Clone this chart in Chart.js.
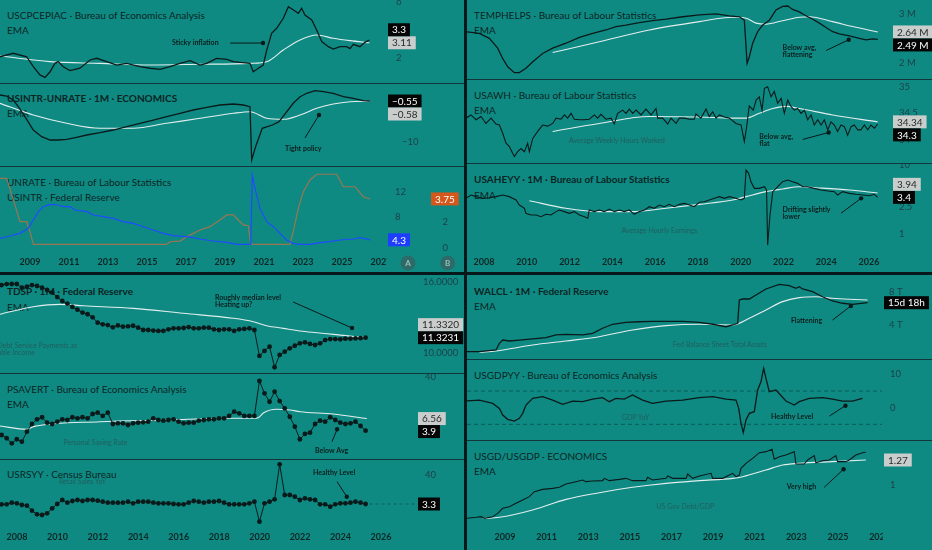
<!DOCTYPE html>
<html lang="en">
<head>
<meta charset="UTF-8">
<meta name="viewport" content="width=device-width, initial-scale=1.0">
<title>US Macro Dashboard</title>
<script src="https://cdn.jsdelivr.net/npm/chart.js"></script>
<style>
  body { margin: 0; width: 932px; height: 550px; overflow: hidden; position: relative; background: #0f8a83; font-family: Lato, "Noto Sans", sans-serif; }
  .txt { position: absolute; white-space: nowrap; z-index: 0; }
  .title { font-size: 10px; line-height: 12px; color: #0b2523; transform: translateY(-50%); }
  .title.bold { font-weight: 700; }
  .wm { font-size: 7px; line-height: 8px; color: #1f605c; transform: translate(-50%, -50%); }
  .wm.r { transform: translate(-100%, -50%); }
  .pane { position: absolute; z-index: 1; }
  .sep { position: absolute; z-index: 2; background: #12363a; }
  .sep.thick { background: #06181a; }
</style>
</head>
<body>
<script>
// ---------- data ----------
const oddYears = [2009, 2011, 2013, 2015, 2017, 2019, 2021, 2023, 2025, 2027];
const evenYears = [2008, 2010, 2012, 2014, 2016, 2018, 2020, 2022, 2024, 2026];

// core PCE inflation
const cpeT = [2007.46,2008.14,2008.83,2009.17,2009.51,2009.77,2010.03,2010.28,2010.45,2010.71,2011.05,2011.56,2012.08,2012.42,2012.93,2013.45,2013.96,2014.64,2015.15,2015.67,2016.18,2016.69,2017.21,2017.72,2018.06,2018.57,2019.09,2019.43,2019.77,2020.28,2020.45,2020.71,2020.96,2021.14,2021.39,2021.65,2021.99,2022.25,2022.51,2022.76,2022.93,2023.1,2023.45,2023.70,2023.96,2024.3,2024.55,2024.9,2025.24,2025.41,2025.58,2025.92,2026.17,2026.4];
const cpeV = [2.11,2.36,2.11,1.40,0.81,0.64,1.04,1.64,1.76,1.40,1.12,1.29,1.88,2.0,1.76,1.52,1.64,1.40,1.29,1.21,1.40,1.64,1.83,1.52,1.64,2.0,1.93,1.76,1.71,1.64,1.04,1.29,1.52,2.59,3.79,4.14,4.86,5.69,5.45,5.21,5.57,5.09,4.74,4.02,3.19,2.83,2.66,2.83,2.83,2.69,3.0,2.83,3.14,3.3];
const cpeEmaT = [2007.46,2010.03,2012.59,2015.15,2017.72,2020.28,2021.14,2021.99,2022.85,2023.7,2024.55,2025.41,2026.4];
const cpeEmaV = [2.16,1.76,1.64,1.52,1.57,1.64,1.76,2.59,3.31,3.66,3.43,3.26,3.11];

// policy rate minus unemployment rate
const spreadT = [2007.46,2007.8,2008.14,2008.4,2008.74,2009.17,2009.6,2010.03,2010.45,2010.88,2011.39,2011.91,2012.59,2013.27,2013.96,2014.64,2015.32,2016.01,2016.69,2017.37,2018.06,2018.74,2019.43,2019.94,2020.28,2020.37,2020.57,2020.91,2021.43,2021.77,2022.1,2022.5,2022.85,2023.19,2023.62,2024.04,2024.55,2025.07,2025.58,2026.09,2026.44];
const spreadV = [0.84,0.61,-0.32,-1.87,-4.19,-7.28,-8.83,-9.6,-9.6,-9.44,-8.97,-8.44,-7.9,-7.28,-6.51,-5.72,-4.96,-4.19,-3.4,-2.64,-2.01,-1.48,-1.25,-1.48,-1.87,-14.24,-11.15,-6.88,-6.12,-5.35,-3.4,-1.08,0.45,1.24,1.84,1.61,1.24,0.45,0.08,-0.45,-0.55];
const spreadEmaT = [2007.46,2009.17,2010.88,2012.59,2014.3,2016.01,2017.72,2019.43,2020.28,2021.14,2021.99,2022.85,2023.7,2024.55,2025.41,2026.44];
const spreadEmaV = [-1.08,-3.8,-5.72,-6.88,-6.88,-5.72,-4.57,-3.4,-3.03,-4.57,-4.8,-3.8,-2.24,-1.25,-0.71,-0.58];

// unemployment rate and policy rate
const unrateT = [2007.46,2007.97,2008.49,2008.91,2009.17,2009.43,2009.68,2010.03,2010.45,2010.71,2011.05,2011.31,2011.91,2012.25,2012.76,2013.27,2013.79,2014.3,2014.81,2015.32,2015.84,2016.35,2017.04,2017.72,2018.4,2019.09,2019.6,2020.32,2020.4,2020.54,2020.79,2021.14,2021.48,2021.82,2022.16,2022.5,2022.85,2023.36,2023.87,2024.38,2024.9,2025.58,2025.92,2026.44];
const unrateV = [4.54,4.91,5.34,6.14,7.47,8.8,9.6,9.98,9.87,9.6,9.6,9.07,8.8,8.27,8.0,7.74,7.2,6.94,6.4,5.87,5.34,4.96,4.8,4.43,4.11,3.9,3.58,3.58,14.67,12.54,9.34,7.2,6.4,5.34,4.27,3.74,3.58,3.58,3.84,4.0,4.27,4.43,4.64,4.3];
const usintrT = [2007.46,2007.8,2008.23,2008.49,2008.83,2009.0,2009.17,2016.01,2016.18,2016.69,2017.04,2017.37,2017.72,2018.23,2018.74,2019.09,2019.43,2019.68,2019.94,2020.2,2020.32,2022.33,2022.5,2022.76,2023.02,2023.36,2023.7,2024.73,2025.07,2025.67,2026.09,2026.44];
const usintrV = [5.34,5.34,3.28,2.0,2.0,1.23,0.26,0.26,0.46,0.51,0.85,1.1,1.36,1.62,2.13,2.52,2.52,2.13,1.75,1.69,0.26,0.26,1.23,3.03,4.31,5.21,5.65,5.65,4.69,4.69,3.92,3.75];

// quarterly series in the lower-left panes
const qStart = 2007.24;
const tdspV = [15.77,15.85,15.86,15.86,15.55,15.63,15.77,15.69,15.55,15.35,15.13,14.75,14.42,14.2,13.92,13.69,13.44,13.3,13.04,12.59,12.45,12.39,12.2,12.36,12.25,12.28,12.33,12.17,11.97,11.97,11.92,11.89,11.89,12.03,12.11,12.11,12.14,12.22,12.11,12.11,12.17,12.17,12.03,11.97,12.03,12.03,11.89,12.03,12.06,12.11,11.97,9.78,10.2,10.56,8.82,9.86,10.14,10.42,10.64,10.84,10.93,10.79,10.7,10.84,11.12,11.2,11.2,11.18,11.24,11.24,11.26,11.28,11.3231];
const tdspEmaT = [2007.16,2008.81,2010.13,2011.28,2013.75,2016.22,2018.7,2019.69,2020.35,2021.17,2022.0,2022.83,2023.65,2024.47,2025.3];
const tdspEmaV = [13.3,13.94,14.14,14.02,13.8,13.38,12.96,12.67,12.33,12.11,11.89,11.74,11.6,11.45,11.332];
const psavV = [3.24,2.82,2.27,2.7,2.43,3.74,5.2,6.36,6.94,5.5,5.2,5.74,6.36,6.17,6.94,6.63,6.94,6.63,7.99,8.45,7.34,8.45,5.2,5.35,5.35,4.98,5.35,5.5,5.59,5.74,6.63,6.17,5.99,6.17,6.36,5.74,5.35,5.5,5.5,5.99,6.17,6.36,6.36,6.63,6.63,7.34,8.81,8.22,7.34,7.34,7.34,32.9,19.4,13.5,20.8,13.9,10.2,7.1,4.63,2.7,3.39,3.58,5.2,5.99,5.74,6.94,6.17,5.5,5.2,5.35,5.74,4.77,3.9];
const psavEmaT = [2007.16,2008.48,2008.81,2012.1,2015.4,2018.7,2019.69,2019.95,2020.2,2020.84,2021.5,2022.0,2023.64,2025.3];
const psavEmaV = [4.77,4.14,4.64,5.74,6.17,6.64,6.64,6.9,8.4,9.76,9.48,8.81,8.0,6.56];
const rsV = [2.88,2.88,4.99,4.15,2.03,1.19,-5.14,-9.78,-10.62,-8.51,-2.18,3.3,8.36,4.99,7.1,8.36,7.1,8.36,8.36,7.52,6.25,4.99,4.99,4.99,4.99,6.25,4.15,6.25,6.25,6.25,4.99,4.15,4.15,4.15,3.3,2.88,2.88,4.99,7.1,6.25,4.99,6.25,6.25,7.1,4.99,2.88,2.88,2.88,2.88,4.15,6.25,-19.07,4.15,6.25,9.21,53.5,14.69,14.69,12.58,8.36,10.47,9.21,8.36,2.88,2.88,-0.08,2.88,4.15,4.15,4.99,6.25,4.99,3.3];

// temp help services employment, millions
const tempT = [2007.16,2007.78,2008.25,2008.64,2008.87,2009.11,2009.42,2009.65,2009.96,2010.28,2010.74,2011.21,2011.83,2012.46,2013.08,2013.70,2014.17,2014.64,2015.26,2015.89,2016.51,2017.29,2018.07,2018.85,2019.47,2019.94,2020.17,2020.3,2020.40,2020.56,2020.79,2021.03,2021.34,2021.65,2021.96,2022.2,2022.43,2022.74,2023.05,2023.37,2023.68,2023.99,2024.30,2024.61,2025.08,2025.55,2025.86,2026.17,2026.41];
const tempV = [2.645,2.61,2.51,2.31,2.10,1.93,1.81,1.81,1.90,2.03,2.2,2.31,2.41,2.53,2.61,2.68,2.75,2.78,2.83,2.87,2.90,2.95,2.99,3.01,2.97,2.95,2.88,2.0,2.13,2.41,2.645,2.78,2.88,3.09,3.16,3.17,3.10,3.05,2.97,2.90,2.82,2.73,2.645,2.60,2.56,2.51,2.48,2.50,2.49];
const tempEmaT = [2011.21,2013.39,2015.73,2018.07,2019.63,2020.25,2020.72,2021.18,2021.96,2022.74,2023.21,2024.30,2025.24,2026.41];
const tempEmaV = [2.22,2.44,2.68,2.85,2.94,2.92,2.82,2.80,2.87,2.94,2.95,2.85,2.75,2.64];

// average weekly hours
const awhT = [2007.16,2007.39,2007.63,2007.86,2008.09,2008.33,2008.56,2008.72,2008.87,2009.03,2009.18,2009.34,2009.42,2009.57,2009.73,2009.89,2010.04,2010.12,2010.28,2010.51,2010.74,2010.98,2011.21,2011.37,2011.6,2011.76,2011.91,2012.07,2012.22,2012.46,2012.69,2012.92,2013.16,2013.31,2013.47,2013.7,2013.94,2014.09,2014.25,2014.48,2014.64,2014.79,2014.95,2015.11,2015.34,2015.57,2015.81,2016.04,2016.12,2016.35,2016.59,2016.74,2016.98,2017.13,2017.37,2017.6,2017.83,2017.91,2018.14,2018.38,2018.53,2018.69,2018.85,2019.0,2019.24,2019.47,2019.78,2020.02,2020.17,2020.28,2020.4,2020.59,2020.72,2020.87,2021.0,2021.11,2021.26,2021.42,2021.57,2021.73,2021.89,2022.04,2022.2,2022.35,2022.51,2022.66,2022.82,2022.98,2023.13,2023.29,2023.44,2023.6,2023.76,2023.91,2024.07,2024.22,2024.38,2024.53,2024.69,2024.85,2025.0,2025.16,2025.31,2025.47,2025.62,2025.78,2025.94,2026.09,2026.25,2026.4];
const awhV = [34.41,34.47,34.38,34.44,34.31,34.41,34.30,34.28,34.13,33.94,33.88,33.75,33.69,33.78,33.84,33.78,33.94,33.78,34.03,34.16,34.28,34.26,34.31,34.41,34.39,34.47,34.41,34.50,34.39,34.38,34.38,34.39,34.47,34.41,34.48,34.39,34.41,34.30,34.50,34.56,34.50,34.58,34.50,34.56,34.47,34.58,34.47,34.59,34.41,34.41,34.30,34.41,34.31,34.41,34.41,34.39,34.39,34.49,34.41,34.58,34.44,34.53,34.41,34.47,34.43,34.41,34.31,34.28,33.97,34.25,34.64,34.56,34.75,34.81,34.56,34.97,35.00,34.81,34.91,34.69,34.78,34.50,34.75,34.63,34.56,34.59,34.50,34.56,34.38,34.47,34.28,34.38,34.28,34.38,34.19,34.34,34.28,34.16,34.28,34.25,34.09,34.25,34.28,34.19,34.19,34.28,34.19,34.28,34.22,34.30];
const awhEmaT = [2011.21,2013.39,2015.73,2018.07,2019.63,2020.25,2020.87,2021.5,2022.12,2022.74,2024.3,2026.4];
const awhEmaV = [34.16,34.31,34.44,34.43,34.41,34.41,34.5,34.59,34.63,34.59,34.47,34.34];

// average hourly earnings, YoY %
const heT = [2007.16,2007.39,2007.63,2007.94,2008.25,2008.56,2008.87,2009.18,2009.5,2009.65,2009.89,2009.96,2010.2,2010.43,2010.66,2010.9,2011.13,2011.37,2011.52,2011.76,2011.99,2012.22,2012.46,2012.69,2012.85,2012.92,2013.16,2013.39,2013.63,2013.86,2014.09,2014.33,2014.56,2014.79,2015.03,2015.26,2015.5,2015.73,2015.96,2016.2,2016.43,2016.66,2016.9,2017.13,2017.37,2017.6,2017.83,2018.07,2018.3,2018.53,2018.77,2019.0,2019.24,2019.47,2019.78,2020.02,2020.17,2020.25,2020.37,2020.48,2020.64,2020.87,2021.11,2021.21,2021.26,2021.37,2021.5,2021.73,2021.96,2022.2,2022.43,2022.66,2022.9,2023.13,2023.44,2023.76,2024.07,2024.38,2024.53,2024.77,2025.08,2025.39,2025.7,2026.01,2026.25,2026.4];
const heV = [3.29,3.67,3.48,3.29,3.36,3.48,3.67,3.48,3.11,2.63,2.36,1.99,1.89,1.89,1.78,1.93,1.89,2.11,2.23,2.11,1.99,2.11,1.89,1.78,1.69,2.23,2.11,2.23,2.11,2.30,2.11,2.23,2.11,2.23,1.93,2.11,2.23,2.49,2.36,2.63,2.49,2.69,2.49,2.69,2.78,2.63,2.49,2.88,2.94,3.11,3.29,3.48,3.29,3.48,3.29,3.11,3.29,8.46,7.57,5.73,4.59,4.59,4.85,4.34,0.69,1.89,4.11,4.85,5.73,6.06,5.73,5.42,4.85,4.85,4.59,4.34,4.2,4.11,3.67,4.11,3.88,3.76,3.67,3.59,3.76,3.4];
const heEmaT = [2010.12,2011.83,2013.39,2014.95,2016.51,2018.07,2019.63,2020.25,2021.18,2021.96,2022.74,2023.52,2025.08,2026.4];
const heEmaV = [3.04,2.36,2.11,2.11,2.36,2.69,3.11,3.48,4.11,4.49,4.85,4.69,4.34,3.94];

// Fed balance sheet, trillions
const walT = [2007.13,2007.77,2008.57,2008.73,2008.89,2009.21,2009.69,2010.33,2010.97,2011.45,2011.93,2012.73,2013.21,2013.69,2014.17,2014.81,2015.45,2016.09,2016.74,2017.54,2018.34,2018.98,2019.62,2019.94,2020.18,2020.26,2020.42,2020.74,2021.06,2021.54,2022.18,2022.66,2022.98,2023.14,2023.3,2023.78,2024.26,2024.74,2025.22,2025.7,2026.42];
const walV = [0.73,0.73,0.94,1.76,2.16,2.04,2.16,2.29,2.45,2.78,2.86,2.78,2.98,3.6,4.09,4.33,4.4,4.45,4.45,4.45,4.33,4.09,3.79,4.0,4.2,7.06,7.18,7.18,7.67,8.41,8.98,8.81,8.49,8.69,8.41,8.08,7.46,6.94,6.66,6.53,6.73];
const walEmaT = [2007.77,2008.57,2010.33,2011.93,2013.53,2015.13,2016.74,2018.34,2019.94,2020.74,2021.54,2022.34,2023.14,2023.94,2024.74,2025.54,2026.42];
const walEmaV = [0.66,0.82,1.55,2.04,2.57,3.39,3.92,4.09,4.0,4.82,5.84,6.86,7.35,7.46,7.27,7.15,7.06];

// GDP YoY %
const gdpT = [2007.13,2007.77,2008.41,2008.73,2008.89,2009.13,2009.45,2009.69,2009.85,2010.01,2010.33,2010.81,2011.29,2011.77,2012.25,2012.73,2013.21,2013.69,2014.01,2014.33,2014.73,2015.13,2015.61,2016.09,2016.74,2017.54,2018.34,2018.98,2019.62,2020.1,2020.23,2020.34,2020.45,2020.58,2020.74,2020.98,2021.14,2021.3,2021.43,2021.54,2021.7,2022.02,2022.5,2022.9,2023.14,2023.62,2024.26,2024.74,2025.22,2025.7,2026.18];
const gdpV = [2.0,2.3,1.3,-0.2,-2.2,-3.5,-4.0,-3.2,-1.7,0.8,2.8,3.3,2.3,1.0,2.0,1.8,2.6,3.0,1.8,2.8,2.6,3.8,2.3,1.3,2.0,2.3,3.0,3.3,2.6,2.3,-0.2,-4.7,-7.5,-3.7,-1.7,-1.2,5.3,7.8,11.8,8.8,4.8,5.3,2.0,0.8,1.8,2.8,3.0,2.6,2.0,2.0,2.8];
const gdpRefLines = [5, -5];

// government debt / GDP
const debtT = [2007.13,2007.61,2007.85,2008.01,2008.41,2008.65,2008.89,2009.21,2009.53,2009.85,2010.17,2010.41,2010.81,2011.29,2011.61,2011.93,2012.41,2012.73,2012.89,2013.21,2013.69,2013.77,2014.01,2014.49,2014.81,2015.13,2015.77,2015.85,2016.09,2016.74,2016.82,2017.06,2017.7,2017.78,2018.02,2018.34,2018.9,2018.98,2019.46,2019.78,2019.94,2020.1,2020.26,2020.34,2020.58,2020.9,2021.22,2021.54,2021.83,2021.94,2022.18,2022.5,2022.9,2022.98,2023.38,2023.54,2023.86,2023.94,2024.26,2024.58,2024.9,2024.98,2025.38,2025.54,2025.86,2026.18,2026.34];
const debtV = [0.64,0.651,0.658,0.64,0.658,0.694,0.748,0.766,0.802,0.838,0.874,0.928,0.953,0.964,0.975,1.011,1.036,1.054,1.036,1.043,1.047,1.072,1.047,1.061,1.072,1.047,1.047,1.083,1.054,1.072,1.097,1.072,1.072,1.119,1.072,1.097,1.126,1.072,1.072,1.108,1.126,1.09,1.108,1.18,1.234,1.288,1.349,1.36,1.385,1.278,1.306,1.324,1.36,1.227,1.227,1.27,1.317,1.241,1.262,1.27,1.317,1.252,1.252,1.27,1.324,1.349,1.353];
const debtEmaT = [2007.93,2008.73,2010.33,2011.93,2013.53,2015.13,2016.74,2018.34,2019.94,2020.42,2021.54,2022.34,2023.14,2024.74,2026.34];
const debtEmaV = [0.64,0.651,0.73,0.845,0.917,0.975,1.018,1.047,1.072,1.09,1.162,1.216,1.234,1.252,1.27];

// ---------- styling ----------
const BG = '#0f8a83', INK = '#0a1a1a', EMA_C = '#e2eeed', AXIS_C = '#1c3f47';
const FONT = 'Lato, "Noto Sans", sans-serif';
Chart.defaults.font.family = FONT;

const last = a => a[a.length - 1];
const pts = (t, v) => t.map((x, i) => ({x, y: v[i]}));
const qpts = v => v.map((y, i) => ({x: qStart + i * 0.25, y}));
const num = (v, dp) => v.toFixed(dp).replace('-', '\u2212');

const mainLine = (data, extra) => Object.assign({data, borderColor: INK, borderWidth: 1.3, pointRadius: 0, tension: 0}, extra);
const emaLine = data => ({data, borderColor: EMA_C, borderWidth: 1.1, pointRadius: 0, cubicInterpolationMode: 'monotone'});
const dotLine = data => ({data, borderColor: INK, borderWidth: 1, pointRadius: 2.4, pointBackgroundColor: INK, pointBorderWidth: 0});

const black = (axis, value, text) => ({axis, value, text, bg: '#050505', fg: '#ffffff'});
const grey = (axis, value, text) => ({axis, value, text, bg: '#c9cecd', fg: '#2a2a2a'});

// no label padding anywhere: the plot area must fill each pane exactly
function noPad(s) { s.paddingTop = 0; s.paddingBottom = 0; s.paddingLeft = 0; s.paddingRight = 0; }

function xAxis(range, ticks, h) {
  return {
    type: 'linear', min: range[0], max: range[1], display: !!ticks,
    grid: {display: false, drawTicks: false}, border: {display: false},
    afterBuildTicks: s => { if (ticks) s.ticks = ticks.map(v => ({value: v})); },
    afterFit: s => { if (ticks) s.height = h; noPad(s); },
    ticks: {padding: 2, color: '#0f2624', font: {size: 9, weight: 'bold'}, maxRotation: 0, autoSkip: false, callback: v => String(v)}
  };
}

function yAxis(o) {
  return {
    type: o.log ? 'logarithmic' : 'linear', position: 'right', min: o.min, max: o.max, weight: o.weight || 0,
    grid: {display: false, drawTicks: false}, border: {display: false},
    afterBuildTicks: s => { s.ticks = o.ticks.map(v => ({value: v})); },
    afterFit: s => { s.width = o.w; noPad(s); },
    ticks: {crossAlign: 'near', padding: o.pad, color: AXIS_C, font: {size: 9.5}, autoSkip: false, callback: o.fmt || (v => String(v))}
  };
}

function decoPlugin(d) {
  return {
    id: 'deco',
    afterDraw(chart) {
      const ctx = chart.ctx, ca = chart.chartArea, xs = chart.scales.x;
      ctx.save();
      (d.hLines || []).forEach(v => {
        const y = chart.scales.y.getPixelForValue(v);
        ctx.strokeStyle = 'rgba(8,55,55,0.55)'; ctx.lineWidth = 1; ctx.setLineDash([4, 3]);
        ctx.beginPath(); ctx.moveTo(ca.left, y); ctx.lineTo(ca.right, y); ctx.stroke();
      });
      if (d.lastLine) {
        const p = last(chart.data.datasets[0].data), y = chart.scales.y.getPixelForValue(p.y);
        ctx.strokeStyle = 'rgba(8,45,45,0.45)'; ctx.lineWidth = 1; ctx.setLineDash([3, 3]);
        ctx.beginPath(); ctx.moveTo(xs.getPixelForValue(p.x) + 4, y); ctx.lineTo(ca.right, y); ctx.stroke();
      }
      ctx.setLineDash([]);
      if (d.cover) { ctx.fillStyle = BG; ctx.fillRect(ca.right + 1, ca.bottom, chart.width - ca.right, chart.height - ca.bottom); }
      (d.circles || []).forEach(([cx, cy, s]) => {
        ctx.fillStyle = '#2c6b67'; ctx.beginPath(); ctx.arc(cx, cy, 7.5, 0, Math.PI * 2); ctx.fill();
        ctx.fillStyle = '#9cbcb9'; ctx.font = 'bold 8px ' + FONT; ctx.textAlign = 'center'; ctx.textBaseline = 'middle';
        ctx.fillText(s, cx, cy + 0.5);
      });
      (d.marks || []).forEach(m => {
        const ys = chart.scales[m.axis || 'y'];
        const X = v => xs.getPixelForValue(v), Y = v => ys.getPixelForValue(v);
        ctx.strokeStyle = INK; ctx.fillStyle = INK; ctx.lineWidth = 1;
        ctx.beginPath(); ctx.moveTo(X(m.from[0]), Y(m.from[1])); ctx.lineTo(X(m.to[0]), Y(m.to[1])); ctx.stroke();
        ctx.beginPath(); ctx.arc(X(m.to[0]), Y(m.to[1]), 2.2, 0, Math.PI * 2); ctx.fill();
        ctx.fillStyle = '#0b1e1d'; ctx.font = 'bold 7px ' + FONT; ctx.textAlign = 'left'; ctx.textBaseline = 'middle';
        m.text.forEach((line, i) => ctx.fillText(line, X(m.at[0]), Y(m.at[1]) + i * 7));
      });
      const items = (d.badges || []).map(b => Object.assign({}, b, {y: chart.scales[b.axis].getPixelForValue(b.value)}));
      if (d.stack === 'down') {
        items.sort((a, b) => a.y - b.y);
        for (let i = 1; i < items.length; i++) items[i].y = Math.max(items[i].y, items[i - 1].y + 13);
      } else if (d.stack === 'up') {
        items.sort((a, b) => b.y - a.y);
        for (let i = 1; i < items.length; i++) items[i].y = Math.min(items[i].y, items[i - 1].y - 13);
      }
      ctx.font = '10px ' + FONT; ctx.textAlign = 'left'; ctx.textBaseline = 'middle';
      items.forEach(b => {
        const x = chart.scales[b.axis].left + 2, w = ctx.measureText(b.text).width + 8;
        ctx.fillStyle = b.bg; ctx.fillRect(x, b.y - 6.5, w, 13);
        ctx.fillStyle = b.fg; ctx.fillText(b.text, x + 4, b.y + 0.5);
      });
      ctx.restore();
    }
  };
}

function pane(p) {
  const [l, t, w, h] = p.rect;
  const div = document.createElement('div');
  div.className = 'pane';
  div.style.cssText = `left:${l}px;top:${t}px;width:${w}px;height:${h}px`;
  const cv = document.createElement('canvas');
  cv.width = w; cv.height = h;
  cv.style.width = w + 'px'; cv.style.height = h + 'px';
  div.appendChild(cv);
  document.body.appendChild(div);
  new Chart(cv, {
    type: 'line',
    data: {datasets: p.datasets},
    options: {
      responsive: false, animation: false, events: [],
      layout: {padding: 0, autoPadding: false},
      plugins: {legend: {display: false}, tooltip: {enabled: false}},
      scales: p.scales
    },
    plugins: [decoPlugin(p.deco || {})]
  });
}

function text(cls, x, y, s) {
  const d = document.createElement('div');
  d.className = 'txt ' + cls;
  d.style.left = x + 'px'; d.style.top = y + 'px';
  d.textContent = s;
  document.body.appendChild(d);
}

// ---------- text layer (under the plots) ----------
[
  [7, 15, 'USCPCEPIAC · Bureau of Economics Analysis'], [7, 30, 'EMA'],
  [7, 98, 'USINTR-UNRATE · 1M · ECONOMICS', 1], [7, 113, 'EMA'],
  [7, 182, 'UNRATE · Bureau of Labour Statistics'], [7, 197, 'USINTR · Federal Reserve'],
  [7, 291, 'TDSP · 1M · Federal Reserve', 1], [7, 306.5, 'EMA'],
  [7, 389, 'PSAVERT · Bureau of Economics Analysis'], [7, 403.5, 'EMA'],
  [7, 474, 'USRSYY · Census Bureau'],
  [474, 15, 'TEMPHELPS · Bureau of Labour Statistics'], [474, 30, 'EMA'],
  [474, 94.5, 'USAWH · Bureau of Labour Statistics'], [474, 110, 'EMA'],
  [474, 179, 'USAHEYY · 1M · Bureau of Labour Statistics', 1], [474, 194.5, 'EMA'],
  [474, 290.5, 'WALCL · 1M · Federal Reserve', 1], [474, 306, 'EMA'],
  [474, 375, 'USGDPYY · Bureau of Economics Analysis'],
  [474, 455.5, 'USGD/USGDP · ECONOMICS'], [474, 471, 'EMA']
].forEach(([x, y, s, b]) => text('title' + (b ? ' bold' : ''), x, y, s));

[
  [95.5, 442, 'Personal Saving Rate'], [82.5, 481, 'Retail Sales YoY'],
  [617, 140, 'Average Weekly Hours Worked'], [659.5, 229.5, 'Average Hourly Earnings'],
  [720, 344, 'Fed Balance Sheet Total Assets'], [635.7, 416.7, 'GDP YoY'], [685.5, 506, 'US Gov Debt/GDP']
].forEach(([x, y, s]) => text('wm', x, y, s));
text('wm r', 77, 345.3, 'Household Debt Service Payments as');
text('wm r', 35, 352.3, 'Percent of Disposable Income');

// ---------- panes ----------
const LT = [2007.462, 2027.256], LB = [2007.159, 2027.733];
const RT = [2007.205, 2027.027], RB = [2007.174, 2027.116];

pane({
  rect: [0, 0, 464, 83],
  datasets: [mainLine(pts(cpeT, cpeV)), emaLine(pts(cpeEmaT, cpeEmaV))],
  scales: {x: xAxis(LT), y: yAxis({min: 0.236, max: 6.164, ticks: [2, 6], w: 78, pad: 10})},
  deco: {
    stack: 'up',
    badges: [black('y', last(cpeV), num(last(cpeV), 1)), grey('y', last(cpeEmaV), num(last(cpeEmaV), 2))],
    marks: [{text: ['Sticky inflation'], at: [2016.28, 3.09], from: [2019.26, 3.09], to: [2020.95, 3.09]}]
  }
});

pane({
  rect: [0, 83, 464, 83],
  datasets: [mainLine(pts(spreadT, spreadV)), emaLine(pts(spreadEmaT, spreadEmaV))],
  scales: {x: xAxis(LT), y: yAxis({min: -15.63, max: 3.626, ticks: [-10], w: 78, pad: 16, fmt: v => num(v, 0)})},
  deco: {
    stack: 'down',
    badges: [black('y', last(spreadV), num(last(spreadV), 2)), grey('y', last(spreadEmaV), num(last(spreadEmaV), 2))],
    marks: [{text: ['Tight policy'], at: [2022.08, -11.69], from: [2023.1, -9.13], to: [2023.82, -3.8]}]
  }
});

pane({
  rect: [0, 166, 464, 106],
  datasets: [
    mainLine(pts(unrateT, unrateV), {borderColor: '#1f4cff', borderWidth: 1.2, yAxisID: 'y'}),
    mainLine(pts(usintrT, usintrV), {borderColor: '#9a7650', borderWidth: 1.2, yAxisID: 'y2'})
  ],
  scales: {
    x: xAxis(LT, oddYears, 17),
    y: yAxis({min: 1.872, max: 16.11, ticks: [8, 12], w: 43, pad: 9}),
    y2: yAxis({min: -0.562, max: 6.285, ticks: [0, 2], w: 35, pad: 13.5, weight: 1})
  },
  deco: {
    cover: true,
    circles: [[408, 97, 'A'], [447.7, 97, 'B']],
    badges: [
      {axis: 'y', value: last(unrateV), text: num(last(unrateV), 1), bg: '#1f3dff', fg: '#ffffff'},
      {axis: 'y2', value: last(usintrV), text: num(last(usintrV), 2), bg: '#d4581c', fg: '#ffffff'}
    ]
  }
});

pane({
  rect: [0, 275, 464, 98],
  datasets: [dotLine(qpts(tdspV)), emaLine(pts(tdspEmaT, tdspEmaV))],
  scales: {x: xAxis(LB), y: yAxis({min: 8.335, max: 16.619, ticks: [10, 16], w: 48, pad: 7, fmt: v => v.toFixed(4)})},
  deco: {
    stack: 'up',
    badges: [black('y', last(tdspV), num(last(tdspV), 4)), grey('y', last(tdspEmaV), num(last(tdspEmaV), 4))],
    marks: [{text: ['Roughly median level', 'Heating up?'], at: [2017.79, 14.7], from: [2021.65, 14.34], to: [2024.57, 12.14]}]
  }
});

pane({
  rect: [0, 373, 464, 86],
  datasets: [dotLine(qpts(psavV)), emaLine(pts(psavEmaT, psavEmaV))],
  scales: {x: xAxis(LB), y: yAxis({log: true, min: 1.157, max: 46.4, ticks: [40], w: 48, pad: 9})},
  deco: {
    stack: 'down',
    badges: [grey('y', last(psavEmaV), num(last(psavEmaV), 2)), black('y', last(psavV), num(last(psavV), 1))],
    marks: [{text: ['Below Avg'], at: [2022.74, 1.63], from: [2023.58, 2.43], to: [2023.83, 4.14]}]
  }
});

pane({
  rect: [0, 459, 464, 91],
  datasets: [dotLine(qpts(rsV))],
  scales: {x: xAxis(LB, evenYears, 20), y: yAxis({min: -29.61, max: 60.26, ticks: [40], w: 48, pad: 9})},
  deco: {
    lastLine: true,
    badges: [black('y', last(rsV), num(last(rsV), 1))],
    marks: [{text: ['Healthy Level'], at: [2022.64, 42.9], from: [2023.83, 31.5], to: [2024.31, 12.5]}]
  }
});

pane({
  rect: [467, 0, 465, 79],
  datasets: [mainLine(pts(tempT, tempV)), emaLine(pts(tempEmaT, tempEmaV))],
  scales: {x: xAxis(RT), y: yAxis({min: 1.68, max: 3.292, ticks: [2, 3], w: 41, pad: 8, fmt: v => v + ' M'})},
  deco: {
    stack: 'down',
    badges: [black('y', last(tempV), num(last(tempV), 2) + ' M'), grey('y', last(tempEmaV), num(last(tempEmaV), 2) + ' M')],
    marks: [{text: ['Below avg,', 'flattening'], at: [2021.96, 2.32], from: [2023.99, 2.26], to: [2025.05, 2.48]}]
  }
});

pane({
  rect: [467, 79, 465, 84],
  datasets: [mainLine(pts(awhT, awhV), {borderWidth: 1.1}), emaLine(pts(awhEmaT, awhEmaV))],
  scales: {x: xAxis(RT), y: yAxis({min: 33.568, max: 35.144, ticks: [34, 34.5, 35], w: 41, pad: 8})},
  deco: {
    stack: 'down',
    badges: [black('y', last(awhV), num(last(awhV), 1)), grey('y', last(awhEmaV), num(last(awhEmaV), 2))],
    marks: [{text: ['Below avg,', 'flat'], at: [2020.87, 34.06], from: [2022.9, 34.01], to: [2024.11, 34.14]}]
  }
});

pane({
  rect: [467, 163, 465, 109],
  datasets: [mainLine(pts(heT, heV), {borderWidth: 1.1}), emaLine(pts(heEmaT, heEmaV))],
  scales: {x: xAxis(RT, evenYears, 17), y: yAxis({log: true, min: 0.496, max: 10.7, ticks: [1, 2.5, 10], w: 41, pad: 8})},
  deco: {
    cover: true, stack: 'up',
    badges: [black('y', last(heV), num(last(heV), 1)), grey('y', last(heEmaV), num(last(heEmaV), 2))],
    marks: [{text: ['Drifting slightly', 'lower'], at: [2021.96, 2.23], from: [2024.69, 2.0], to: [2025.63, 3.29]}]
  }
});

pane({
  rect: [467, 275, 465, 84],
  datasets: [mainLine(pts(walT, walV)), emaLine(pts(walEmaT, walEmaV))],
  scales: {x: xAxis(RB), y: yAxis({min: -0.162, max: 10.12, ticks: [4, 8], w: 50, pad: 7, fmt: v => v + ' T'})},
  deco: {
    badges: [black('y', last(walV), '15d 18h')],
    marks: [{text: ['Flattening'], at: [2022.74, 4.53], from: [2024.74, 4.61], to: [2025.62, 6.33]}]
  }
});

pane({
  rect: [467, 359, 465, 81],
  datasets: [mainLine(pts(gdpT, gdpV))],
  scales: {x: xAxis(RB), y: yAxis({min: -9.7, max: 14.62, ticks: [0, 10], w: 50, pad: 8})},
  deco: {
    hLines: gdpRefLines,
    marks: [{text: ['Healthy Level'], at: [2021.78, -2.7], from: [2024.59, -2.5], to: [2025.36, 0.6]}]
  }
});

pane({
  rect: [467, 440, 465, 110],
  datasets: [mainLine(pts(debtT, debtV), {borderWidth: 1.1}), emaLine(pts(debtEmaT, debtEmaV))],
  scales: {x: xAxis(RB, oddYears, 20), y: yAxis({min: 0.514, max: 1.486, ticks: [1], w: 50, pad: 8})},
  deco: {
    cover: true,
    badges: [grey('y', last(debtEmaV), num(last(debtEmaV), 2))],
    marks: [{text: ['Very high'], at: [2022.54, 0.98], from: [2024.34, 0.975], to: [2025.27, 1.17]}]
  }
});

// ---------- pane separators ----------
[[0, 82.5, 464, 1.5], [0, 165.5, 464, 1.5], [0, 372.5, 464, 1.5], [0, 458.5, 464, 1.5],
 [467, 78.5, 465, 1.5], [467, 162.5, 465, 1.5], [467, 358.5, 465, 1.5], [467, 439.5, 465, 1.5]
].forEach(([l, t, w, h]) => {
  const d = document.createElement('div');
  d.className = 'sep';
  d.style.cssText = `left:${l}px;top:${t}px;width:${w}px;height:${h}px`;
  document.body.appendChild(d);
});
[[0, 272, 932, 3], [464, 0, 3, 550]].forEach(([l, t, w, h]) => {
  const d = document.createElement('div');
  d.className = 'sep thick';
  d.style.cssText = `left:${l}px;top:${t}px;width:${w}px;height:${h}px`;
  document.body.appendChild(d);
});
</script>
</body>
</html>
